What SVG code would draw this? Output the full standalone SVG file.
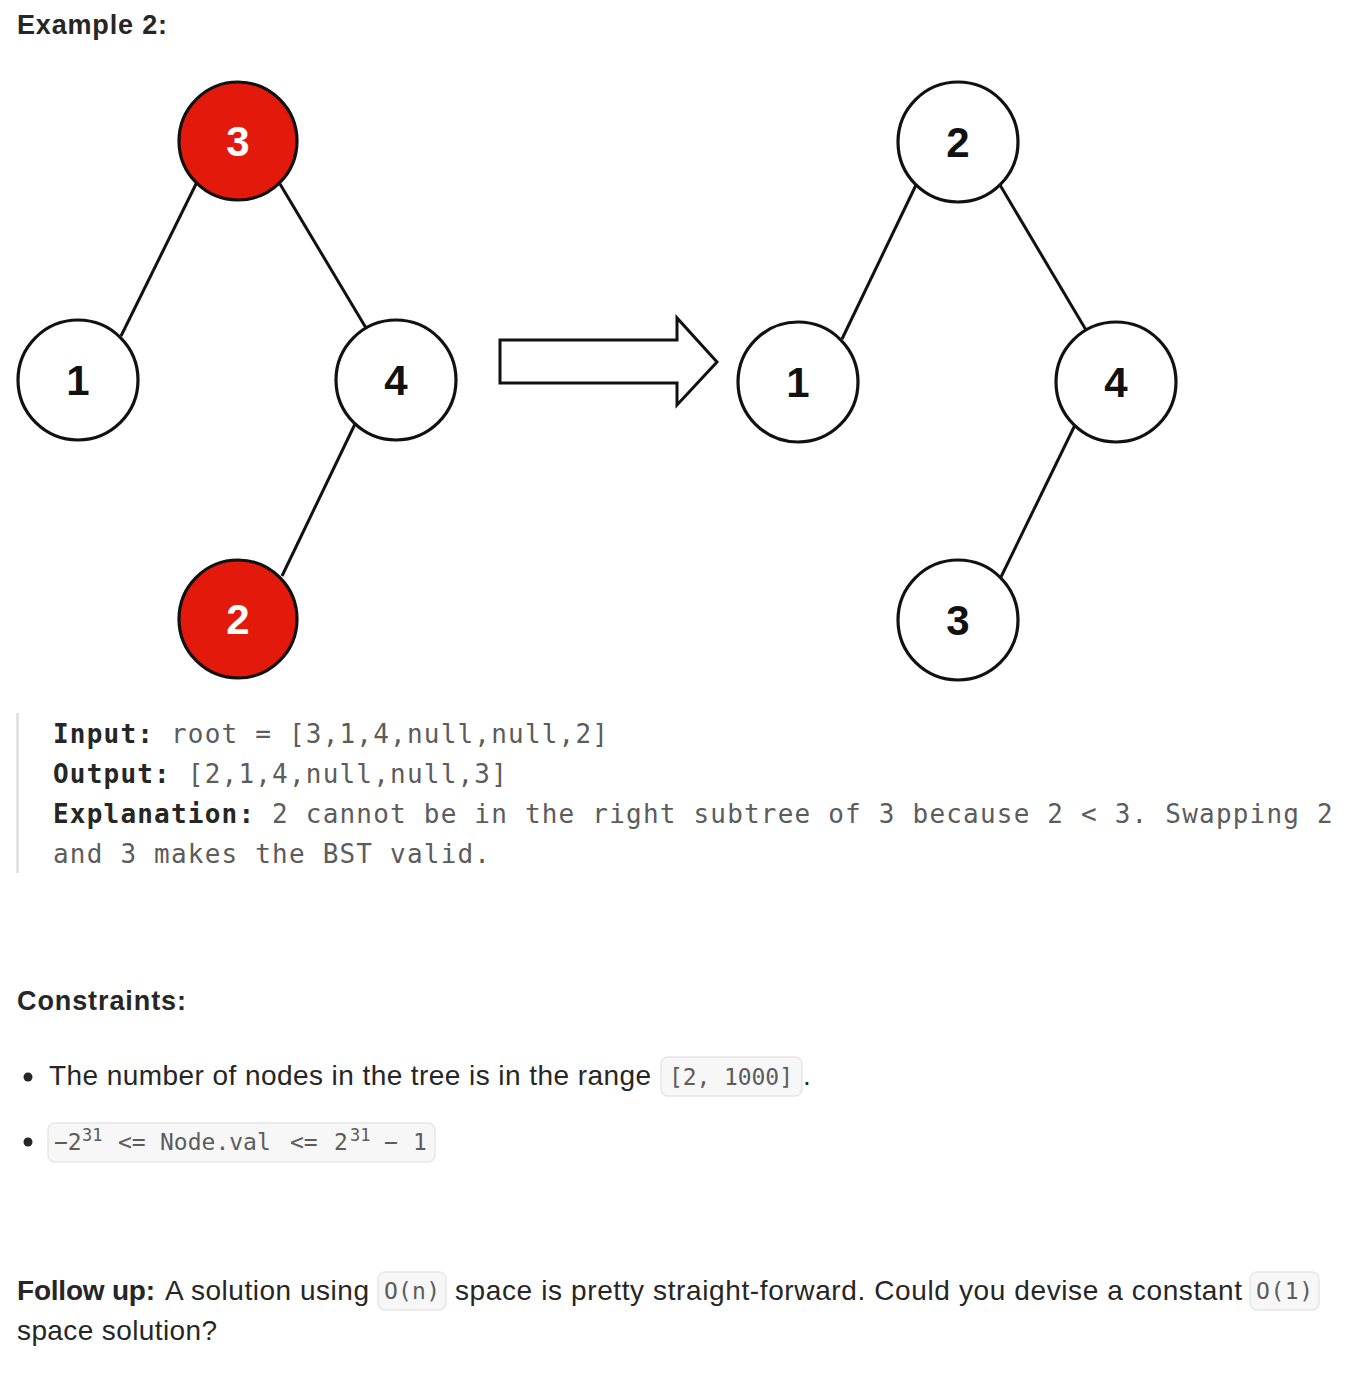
<svg xmlns="http://www.w3.org/2000/svg" width="1370" height="1374" viewBox="0 0 1370 1374">
<defs>
<style>
.node{stroke:#111;stroke-width:3.2}
.red{fill:#e2190b}
.white{fill:#fff}
.num{font-family:"Liberation Sans",Arial,sans-serif;font-weight:bold;font-size:42px;text-anchor:middle}
.nw{fill:#fff}
.nb{fill:#111}
.edge{stroke:#111;stroke-width:3;fill:none}
.h{font-family:"Liberation Sans",Arial,sans-serif;font-weight:bold;font-size:27px;fill:#262626}
.body{font-family:"Liberation Sans",Arial,sans-serif;font-size:28px;fill:#262626}
.b{font-weight:bold}
.mono{font-family:"DejaVu Sans Mono","Liberation Mono",monospace;font-size:26px;letter-spacing:1.2px;fill:#5c5c5c}
.ml{fill:#262626;font-weight:bold}
.code{font-family:"DejaVu Sans Mono","Liberation Mono",monospace;font-size:23px;fill:#5c5c5c}
.sup{font-size:17px}
.cbox{fill:#f7f7f7;stroke:#e6e6e6;stroke-width:1.5}
</style>
<clipPath id="clipR"><rect x="0" y="0" width="1178" height="1374"/></clipPath>
</defs>
<rect width="1370" height="1374" fill="#fff"/>

<text class="h" x="17" y="34" textLength="150">Example 2:</text>

<g id="connectors">
<line class="edge" x1="197" y1="182" x2="121" y2="336"/>
<line class="edge" x1="280" y1="184" x2="366" y2="328"/>
<line class="edge" x1="355" y1="424" x2="282" y2="576"/>
<line class="edge" x1="916" y1="185" x2="842" y2="339"/>
<line class="edge" x1="1000" y1="185" x2="1086" y2="330"/>
<line class="edge" x1="1075" y1="425" x2="1001" y2="577"/>
</g>

<g id="L3"><circle class="node red" cx="238" cy="141" r="59"/><text class="num nw" x="238" y="156">3</text></g>
<g id="L1"><circle class="node white" cx="78" cy="380" r="60"/><text class="num nb" x="78" y="395">1</text></g>
<g id="L4"><circle class="node white" cx="396" cy="380" r="60"/><text class="num nb" x="396" y="395">4</text></g>
<g id="L2"><circle class="node red" cx="238" cy="619" r="59"/><text class="num nw" x="238" y="634">2</text></g>

<g id="arrow"><polygon points="500,340 677,340 677,318 717,362 677,405 677,383 500,383" fill="#fff" stroke="#111" stroke-width="3" stroke-linejoin="miter"/></g>

<g id="R2"><circle class="node white" cx="958" cy="142" r="60"/><text class="num nb" x="958" y="157">2</text></g>
<g id="R1"><circle class="node white" cx="798" cy="382" r="60"/><text class="num nb" x="798" y="397">1</text></g>
<g id="R4" clip-path="url(#clipR)"><circle class="node white" cx="1116" cy="382" r="60"/><text class="num nb" x="1116" y="397">4</text></g>
<g id="R3"><circle class="node white" cx="958" cy="620" r="60"/><text class="num nb" x="958" y="635">3</text></g>

<g id="example-text">
<rect x="16" y="713" width="3" height="160" fill="#e3e3e3"/>
<text class="mono" x="53" y="743"><tspan class="ml">Input:</tspan> root = [3,1,4,null,null,2]</text>
<text class="mono" x="53" y="783"><tspan class="ml">Output:</tspan> [2,1,4,null,null,3]</text>
<text class="mono" x="53" y="823"><tspan class="ml">Explanation:</tspan> 2 cannot be in the right subtree of 3 because 2 &lt; 3. Swapping 2</text>
<text class="mono" x="53" y="863">and 3 makes the BST valid.</text>
</g>

<text class="h" x="17" y="1010" textLength="169">Constraints:</text>

<g id="constraints">
<circle cx="28" cy="1077" r="4.5" fill="#262626"/>
<text class="body" x="49" y="1085" textLength="602">The number of nodes in the tree is in the range</text>
<rect class="cbox" x="661" y="1057" width="141" height="39" rx="7"/>
<text class="code" x="669" y="1085" textLength="124">[2, 1000]</text>
<text class="body" x="803" y="1085">.</text>

<circle cx="28" cy="1142" r="4.5" fill="#262626"/>
<rect class="cbox" x="48" y="1123" width="387" height="39" rx="7"/>
<text class="code" y="1150"><tspan x="54">−2</tspan><tspan x="82" dy="-9" class="sup">31</tspan><tspan x="118" dy="9">&lt;=</tspan><tspan x="160">Node.val</tspan><tspan x="290">&lt;=</tspan><tspan x="334">2</tspan><tspan x="350" dy="-9" class="sup">31</tspan><tspan x="384" dy="9">−</tspan><tspan x="413">1</tspan></text>
</g>

<g id="followup">
<text class="body b" x="17" y="1300" textLength="138">Follow up:</text>
<text class="body" x="165" y="1300" textLength="204">A solution using</text>
<rect class="cbox" x="378" y="1272" width="68" height="38" rx="7"/>
<text class="code" x="384" y="1299" textLength="56">O(n)</text>
<text class="body" x="455" y="1300" textLength="787">space is pretty straight-forward. Could you devise a constant</text>
<rect class="cbox" x="1250" y="1272" width="69" height="38" rx="7"/>
<text class="code" x="1256" y="1299" textLength="57">O(1)</text>
<text class="body" x="17" y="1340" textLength="200">space solution?</text>
</g>
</svg>
